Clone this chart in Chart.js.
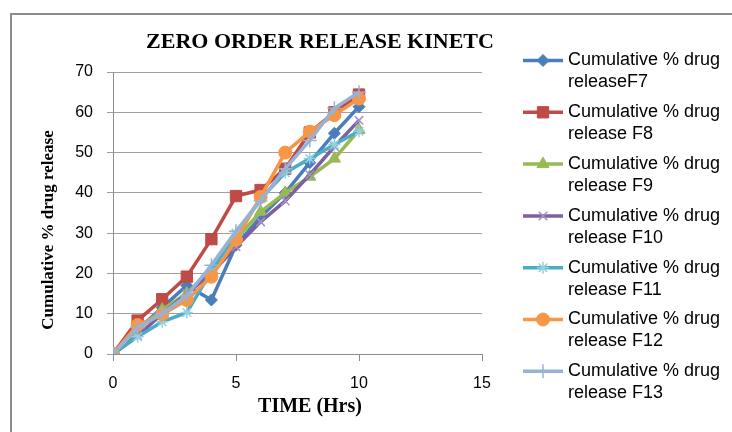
<!DOCTYPE html>
<html>
<head>
<meta charset="utf-8">
<script src="https://cdn.jsdelivr.net/npm/chart.js@4.4.1/dist/chart.umd.min.js"></script>
<style>
  html, body { margin: 0; padding: 0; background: #fff; }
  #wrap { position: relative; width: 732px; height: 432px; overflow: hidden; }
  #frame { position: absolute; left: 10px; top: 13px; width: 800px; height: 500px; border: 2px solid #8c8c8c; }
  canvas { position: absolute; left: 0; top: 0; }
</style>
</head>
<body>
<div id="wrap">
  <div id="frame"></div>
  <canvas id="releaseChart" width="732" height="432"></canvas>
</div>
<script>
// time points (hours)
const hours = [0, 1, 2, 3, 4, 5, 6, 7, 8, 9, 10];

// cumulative % drug release
const f7  = [0, 6.0, 11.5, 17.0, 13.4, 27.0, 34.0, 40.0, 47.5, 54.8, 61.4];
const f8  = [0, 8.3, 13.6, 19.2, 28.5, 39.2, 40.7, 46.0, 55.0, 60.0, 64.4];
const f9  = [0, 6.0, 11.0, 15.0, 21.0, 28.5, 35.3, 40.0, 44.0, 48.5, 55.6];
const f10 = [0, 4.5, 10.0, 15.0, 20.0, 26.6, 32.8, 38.0, 44.5, 51.5, 58.0];
const f11 = [0, 4.3, 8.0, 10.3, 20.5, 30.0, 38.5, 45.0, 48.5, 52.0, 55.3];
const f12 = [0, 7.2, 9.8, 13.4, 19.2, 28.3, 39.0, 50.0, 55.2, 59.3, 63.4];
const f13 = [0, 6.5, 10.0, 14.5, 22.0, 30.5, 38.0, 46.0, 53.0, 61.0, 65.0];

const legendNames = [
    ['Cumulative % drug', 'releaseF7'],
    ['Cumulative % drug', 'release F8'],
    ['Cumulative % drug', 'release F9'],
    ['Cumulative % drug', 'release F10'],
    ['Cumulative % drug', 'release F11'],
    ['Cumulative % drug', 'release F12'],
    ['Cumulative % drug', 'release F13']
];

const xTicks = [0, 5, 10, 15];
const chartTitle = 'ZERO ORDER RELEASE KINETC';
const xTitle = 'TIME (Hrs)';
const yTitle = 'Cumulative % drug release';

function serie(values, label, color, style, radius, idx, markerColor) {
    return {
        label: label,
        data: hours.map((h, i) => ({ x: h, y: values[i] })),
        borderColor: color,
        backgroundColor: color,
        borderWidth: 3.5,
        pointStyle: style,
        pointRadius: radius,
        pointBackgroundColor: markerColor || color,
        pointBorderColor: markerColor || color,
        pointBorderWidth: style === 'crossRot' || style === 'star' || style === 'cross' ? 1.5 : 1,
        order: 10 - idx, // later series drawn on top, like Excel
        tension: 0
    };
}

// titles and legend drawn on the same canvas
const decorPlugin = {
    id: 'decor',
    afterDraw(chart) {
        const ctx = chart.ctx;
        ctx.save();
        ctx.fillStyle = '#000';
        ctx.font = 'bold 22px "Liberation Serif", "Times New Roman", serif';
        ctx.textAlign = 'center';
        ctx.textBaseline = 'alphabetic';
        ctx.fillText(chartTitle, 320, 48);

        ctx.font = 'bold 20px "Liberation Serif", "Times New Roman", serif';
        ctx.fillText(xTitle, 310, 412);

        ctx.save();
        ctx.translate(53, 230);
        ctx.rotate(-Math.PI / 2);
        ctx.font = 'bold 17px "Liberation Serif", "Times New Roman", serif';
        ctx.fillText(yTitle, 0, 0);
        ctx.restore();

        chart.data.datasets.forEach((ds, i) => {
            const y = 60.5 + i * 51.8;
            ctx.strokeStyle = ds.borderColor;
            ctx.lineWidth = 3.5;
            ctx.beginPath();
            ctx.moveTo(523, y);
            ctx.lineTo(563, y);
            ctx.stroke();
            ctx.fillStyle = ds.pointBackgroundColor;
            ctx.strokeStyle = ds.pointBorderColor;
            ctx.lineWidth = ds.pointBorderWidth;
            Chart.helpers.drawPoint(ctx, {
                pointStyle: ds.pointStyle,
                radius: ds.pointRadius,
                borderWidth: ds.pointBorderWidth,
                rotation: 0
            }, 543, y);
            ctx.fillStyle = '#000';
            ctx.font = '18px "Liberation Sans", Arial, sans-serif';
            ctx.textAlign = 'left';
            ctx.textBaseline = 'middle';
            ctx.fillText(legendNames[i][0], 568, y);
            ctx.fillText(legendNames[i][1], 568, y + 22);
        });
        ctx.restore();
    }
};

const ctx = document.getElementById('releaseChart').getContext('2d');
new Chart(ctx, {
    type: 'line',
    data: {
        datasets: [
            serie(f7, 'F7', '#4A7EBB', 'rectRot', 6, 0),
            serie(f8, 'F8', '#BE4B48', 'rect', 8, 1),
            serie(f9, 'F9', '#98B954', 'triangle', 7, 2),
            serie(f10, 'F10', '#7D60A0', 'crossRot', 6, 3, '#A391C4'),
            serie(f11, 'F11', '#4BACC6', 'star', 6, 4, '#93D1E3'),
            serie(f12, 'F12', '#F79646', 'circle', 6.5, 5),
            serie(f13, 'F13', '#95B3D7', 'cross', 7, 6)
        ]
    },
    options: {
        responsive: false,
        animation: false,
        devicePixelRatio: 1,
        layout: { padding: { left: 36, right: 250, top: 72, bottom: 15 } },
        plugins: {
            legend: { display: false },
            title: { display: false },
            tooltip: { enabled: false }
        },
        scales: {
            x: {
                type: 'linear',
                min: 0,
                max: 15,
                afterBuildTicks: scale => { scale.ticks = xTicks.map(v => ({ value: v })); },
                afterFit: scale => { scale.height = 63; },
                grid: {
                    display: true,
                    drawOnChartArea: false,
                    drawTicks: true,
                    tickLength: 7,
                    color: '#8c8c8c'
                },
                border: { display: true, color: '#8c8c8c', width: 1 },
                ticks: {
                    padding: 13,
                    color: '#000',
                    font: { family: '"Liberation Sans", Arial, sans-serif', size: 16 }
                },
                title: { display: false }
            },
            y: {
                min: 0,
                max: 70,
                afterFit: scale => { scale.width = 77; },
                grid: {
                    color: '#a0a0a0',
                    tickLength: 6,
                    lineWidth: 1
                },
                border: { display: true, color: '#8c8c8c', width: 1 },
                ticks: {
                    stepSize: 10,
                    padding: 14,
                    color: '#000',
                    font: { family: '"Liberation Sans", Arial, sans-serif', size: 16 }
                },
                title: { display: false }
            }
        }
    },
    plugins: [decorPlugin]
});
</script>
</body>
</html>
